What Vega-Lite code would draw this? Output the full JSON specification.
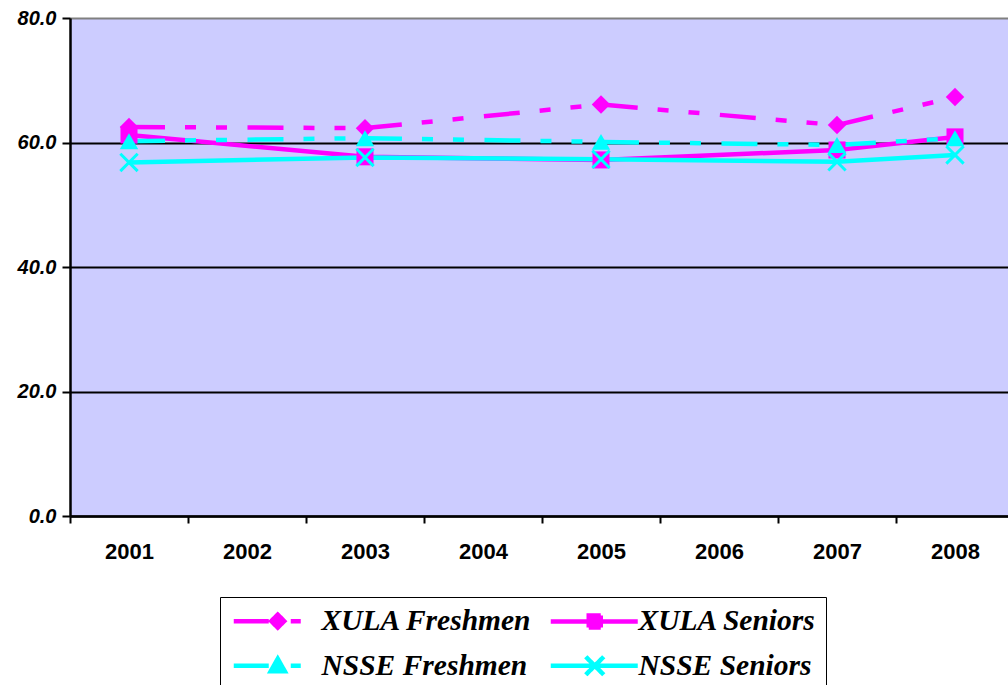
{
  "$schema": "https://vega.github.io/schema/vega-lite/v6.json",
  "width": 944,
  "height": 498,
  "autosize": "none",
  "padding": {"left": 70, "top": 18, "right": 0, "bottom": 169},
  "background": "white",
  "config": {"view": {"fill": "#CCCCFF", "stroke": "#808080", "strokeWidth": 1}},
  "data": {"values": [
    {"year": "2001", "series": "XULA Freshmen", "value": 62.5},
    {"year": "2003", "series": "XULA Freshmen", "value": 62.3},
    {"year": "2005", "series": "XULA Freshmen", "value": 66.1},
    {"year": "2007", "series": "XULA Freshmen", "value": 62.8},
    {"year": "2008", "series": "XULA Freshmen", "value": 67.3},
    {"year": "2001", "series": "XULA Seniors", "value": 61.2},
    {"year": "2003", "series": "XULA Seniors", "value": 57.7},
    {"year": "2005", "series": "XULA Seniors", "value": 57.2},
    {"year": "2007", "series": "XULA Seniors", "value": 58.8},
    {"year": "2008", "series": "XULA Seniors", "value": 60.9},
    {"year": "2001", "series": "NSSE Freshmen", "value": 60.2},
    {"year": "2003", "series": "NSSE Freshmen", "value": 60.7},
    {"year": "2005", "series": "NSSE Freshmen", "value": 60.1},
    {"year": "2007", "series": "NSSE Freshmen", "value": 59.6},
    {"year": "2008", "series": "NSSE Freshmen", "value": 60.7},
    {"year": "2001", "series": "NSSE Seniors", "value": 56.8},
    {"year": "2003", "series": "NSSE Seniors", "value": 57.6},
    {"year": "2005", "series": "NSSE Seniors", "value": 57.3},
    {"year": "2007", "series": "NSSE Seniors", "value": 56.9},
    {"year": "2008", "series": "NSSE Seniors", "value": 58.0}
  ]},
  "encoding": {
    "x": {
      "field": "year", "type": "ordinal", "bandPosition": 0.5,
      "scale": {"type": "band", "domain": ["2001","2002","2003","2004","2005","2006","2007","2008"], "paddingInner": 0, "paddingOuter": 0},
      "axis": {"title": null, "tickBand": "extent", "labelAngle": 0, "labelFont": "Liberation Sans", "labelFontWeight": "bold", "labelFontSize": 22, "labelColor": "black", "tickColor": "black", "tickWidth": 2, "tickSize": 7, "domainColor": "black", "domainWidth": 2.5, "labelPadding": 18, "grid": false}
    },
    "y": {
      "field": "value", "type": "quantitative",
      "scale": {"domain": [0, 80], "nice": false},
      "axis": {"title": null, "values": [0, 20, 40, 60, 80], "format": ".1f", "labelFont": "Liberation Sans", "labelFontWeight": "bold", "labelFontStyle": "italic", "labelFontSize": 20, "labelColor": "black", "domainColor": "black", "domainWidth": 2.5, "tickColor": "black", "tickWidth": 2, "tickSize": 8, "labelPadding": 6, "grid": true, "gridColor": {"condition": {"test": "datum.value == 80", "value": "#808080"}, "value": "black"}, "gridWidth": 2, "gridOpacity": 1}
    },
    "color": {
      "field": "series", "type": "nominal",
      "scale": {"domain": ["XULA Freshmen","NSSE Freshmen","XULA Seniors","NSSE Seniors"], "range": ["#FF00FF","#00FFFF","#FF00FF","#00FFFF"]},
      "legend": {
        "orient": "none", "legendX": 150, "legendY": 579, "columns": 2, "title": null,
        "strokeColor": "black", "fillColor": "white", "padding": 9,
        "labelFont": "Liberation Serif", "labelFontSize": 29.5, "labelFontWeight": "bold", "labelFontStyle": "italic", "labelColor": "black", "labelLimit": 400,
        "symbolSize": 400, "symbolStrokeWidth": 4.5, "symbolOpacity": 1, "symbolDash": [1, 0],
        "symbolType": {"expr": "datum.value === 'XULA Freshmen' ? 'M-1,0H2.5M4.7,0H5.7M3.4,-0.65L4.05,0L3.4,0.65L2.75,0Z' : datum.value === 'XULA Seniors' ? 'M-1,0H7.7M2.8,-0.6H4V0.6H2.8Z' : datum.value === 'NSSE Freshmen' ? 'M-1,0H2.5M4.7,0H5.7M3.4,-0.7L4.1,0.55H2.7Z' : 'M-1,0H7.7M2.5,-0.9L4.3,0.9M2.5,0.9L4.3,-0.9'"},
        "labelOffset": 63, "columnPadding": 8, "rowPadding": 10
      }
    }
  },
  "layer": [
    {
      "transform": [{"filter": "datum.series === 'XULA Seniors' || datum.series === 'NSSE Seniors'"}],
      "mark": {"type": "line", "strokeWidth": 4.5}
    },
    {
      "transform": [{"filter": "datum.series === 'XULA Freshmen' || datum.series === 'NSSE Freshmen'"}],
      "mark": {"type": "line", "strokeWidth": 4.5, "strokeDash": [36, 20, 11, 20, 11, 20.5]}
    },
    {
      "transform": [{"filter": "datum.series === 'XULA Freshmen'"}],
      "mark": {"type": "point", "shape": "diamond", "filled": true, "opacity": 1, "size": 340}
    },
    {
      "transform": [{"filter": "datum.series === 'XULA Seniors'"}],
      "mark": {"type": "point", "shape": "square", "filled": true, "opacity": 1, "size": 290}
    },
    {
      "transform": [{"filter": "datum.series === 'NSSE Freshmen'"}],
      "mark": {"type": "point", "shape": "triangle-up", "filled": true, "opacity": 1, "size": 340}
    },
    {
      "transform": [{"filter": "datum.series === 'NSSE Seniors'"}],
      "mark": {"type": "point", "shape": "M-1,-1L1,1M-1,1L1,-1", "filled": false, "opacity": 1, "size": 300, "strokeWidth": 3}
    }
  ]
}
